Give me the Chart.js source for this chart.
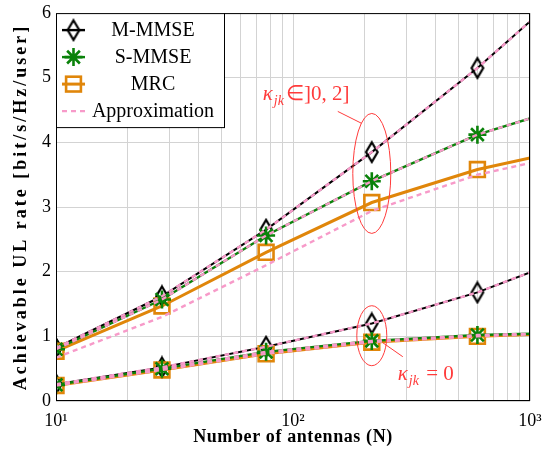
<!DOCTYPE html>
<html>
<head>
<meta charset="utf-8">
<script src="https://cdn.jsdelivr.net/npm/chart.js@4.4.0/dist/chart.umd.min.js"></script>
<style>
  html, body { margin: 0; padding: 0; background: #fff; }
</style>
</head>
<body>
<canvas id="rateChart" width="558" height="453"></canvas>
<script>
// Number of antennas (x values) – markers on all but the last one
const antennas = [10, 28, 77, 215, 600, 1000];

// kappa_jk in ]0, 2]
const mmseHigh      = [0.82, 1.62, 2.65, 3.85, 5.15, 5.87];
const smmseHigh     = [0.80, 1.57, 2.56, 3.40, 4.12, 4.37];
const mrcHigh       = [0.77, 1.47, 2.30, 3.07, 3.58, 3.76];
const approxMmseHigh  = [0.82, 1.62, 2.65, 3.85, 5.15, 5.87];
const approxSmmseHigh = [0.80, 1.57, 2.56, 3.40, 4.12, 4.37];
const approxMrcHigh   = [0.67, 1.30, 2.10, 2.94, 3.50, 3.68];

// kappa_jk = 0
const mmseZero      = [0.26, 0.52, 0.84, 1.20, 1.68, 1.99];
const smmseZero     = [0.25, 0.50, 0.76, 0.93, 1.02, 1.04];
const mrcZero       = [0.24, 0.48, 0.73, 0.91, 1.00, 1.03];
const approxMmseZero  = [0.26, 0.52, 0.84, 1.20, 1.68, 1.99];
const approxSmmseZero = [0.25, 0.50, 0.76, 0.93, 1.02, 1.04];
const approxMrcZero   = [0.24, 0.48, 0.73, 0.91, 1.00, 1.03];

const xTicks = [10, 20, 30, 40, 50, 60, 70, 80, 90, 100, 200, 300, 400, 500, 600, 700, 800, 900, 1000];
const xTickLabels = { 10: '10¹', 100: '10²', 1000: '10³' };
const yTicks = [0, 1, 2, 3, 4, 5, 6];

const legendNames = ['M-MMSE', 'S-MMSE', 'MRC', 'Approximation'];
const xTitle = 'Number of antennas (N)';
const yTitle = 'Achievable UL rate [bit/s/Hz/user]';

const BLACK = '#000000';
const GREEN = '#0a820a';
const ORANGE = '#e0860a';
const PINK = '#f79ac9';
const RED = '#ff3b3b';
const FONT = "'Liberation Serif', serif";

// tall hollow diamond used as marker
function diamondMarker(w, h, lw) {
    const c = document.createElement('canvas');
    c.width = w + lw * 2;
    c.height = h + lw * 2;
    const g = c.getContext('2d');
    g.strokeStyle = BLACK;
    g.lineWidth = lw;
    g.beginPath();
    g.moveTo(c.width / 2, lw);
    g.lineTo(c.width - lw, c.height / 2);
    g.lineTo(c.width / 2, c.height - lw);
    g.lineTo(lw, c.height / 2);
    g.closePath();
    g.stroke();
    return c;
}
const diamond = diamondMarker(12, 20, 2.2);

function pts(values) {
    return antennas.map(function (n, i) { return { x: n, y: values[i] }; });
}
function radii(r) {
    return antennas.map(function (n, i) { return i < antennas.length - 1 ? r : 0; });
}

function simSet(values, color, width, style, r, order) {
    return {
        data: pts(values),
        borderColor: color,
        borderWidth: width,
        pointStyle: style,
        pointRadius: radii(r),
        pointBorderColor: color,
        pointBorderWidth: 2.6,
        pointBackgroundColor: 'rgba(0,0,0,0)',
        tension: 0,
        order: order,
    };
}
function approxSet(values) {
    return {
        data: pts(values),
        borderColor: PINK,
        borderWidth: 2.4,
        borderDash: [5, 4],
        pointRadius: 0,
        tension: 0,
        order: 0,
    };
}

const datasets = [
    simSet(mmseHigh, BLACK, 2, diamond, 10, 4),
    simSet(mrcHigh, ORANGE, 3, 'rect', 10.5, 3),
    simSet(smmseHigh, GREEN, 2.4, 'star', 9, 2),
    approxSet(approxMmseHigh),
    approxSet(approxSmmseHigh),
    approxSet(approxMrcHigh),
    simSet(mmseZero, BLACK, 2, diamond, 10, 4),
    simSet(mrcZero, ORANGE, 3, 'rect', 10.5, 3),
    simSet(smmseZero, GREEN, 2.4, 'star', 9, 2),
    approxSet(approxMmseZero),
    approxSet(approxSmmseZero),
    approxSet(approxMrcZero),
];

function drawKappa(ctx, x, y, rest) {
    ctx.fillStyle = RED;
    ctx.textBaseline = 'alphabetic';
    ctx.textAlign = 'left';
    ctx.font = 'italic 21px ' + FONT;
    ctx.fillText('κ', x, y);
    x += ctx.measureText('κ').width + 1;
    ctx.font = 'italic 14px ' + FONT;
    ctx.fillText('jk', x, y + 5);
    x += ctx.measureText('jk').width + 2;
    ctx.font = '21px ' + FONT;
    ctx.fillText(rest, x, y);
}

const overlay = {
    id: 'overlay',
    afterDraw: function (chart) {
        const ctx = chart.ctx;
        const a = chart.chartArea;
        const xs = chart.scales.x;
        const ys = chart.scales.y;
        ctx.save();

        // axes box
        ctx.strokeStyle = BLACK;
        ctx.lineWidth = 1;
        ctx.strokeRect(a.left + 0.5, a.top + 0.5, a.right - a.left - 1, a.bottom - a.top - 1);

        // axis titles (wide letter spacing like the LaTeX original)
        ctx.fillStyle = BLACK;
        ctx.font = 'bold 18px ' + FONT;
        ctx.textAlign = 'center';
        ctx.textBaseline = 'middle';
        ctx.letterSpacing = '0.6px';
        ctx.fillText(xTitle, (a.left + a.right) / 2, 437);
        ctx.save();
        ctx.translate(21, (a.top + a.bottom) / 2);
        ctx.rotate(-Math.PI / 2);
        ctx.letterSpacing = '3px';
        ctx.fillText(yTitle, 0, 0);
        ctx.restore();
        ctx.letterSpacing = '0px';

        // ellipse annotations around N = 215
        ctx.strokeStyle = RED;
        ctx.lineWidth = 1;
        const cx = xs.getPixelForValue(215);
        const cyHigh = ys.getPixelForValue(3.52);
        const cyZero = ys.getPixelForValue(1.01);

        ctx.beginPath();
        ctx.ellipse(cx, cyHigh, 19, 60, 0, 0, Math.PI * 2);
        ctx.stroke();
        ctx.beginPath();
        ctx.moveTo(cx - 10, cyHigh - 50);
        ctx.lineTo(cx - 34, cyHigh - 62);
        ctx.stroke();
        drawKappa(ctx, cx - 109, cyHigh - 73, '∈]0, 2]');

        ctx.beginPath();
        ctx.ellipse(cx, cyZero, 15, 30, 0, 0, Math.PI * 2);
        ctx.stroke();
        ctx.beginPath();
        ctx.moveTo(cx + 11, cyZero + 7);
        ctx.lineTo(cx + 31, cyZero + 21);
        ctx.stroke();
        drawKappa(ctx, cx + 26, cyZero + 44, ' = 0');

        // legend box
        const lx = a.left, ly = a.top, lw = 168, lh = 114;
        ctx.fillStyle = '#fff';
        ctx.fillRect(lx, ly, lw, lh);
        ctx.strokeStyle = BLACK;
        ctx.strokeRect(lx + 0.5, ly + 0.5, lw, lh);
        const rows = [17, 44, 71, 98];
        const colors = [BLACK, GREEN, ORANGE, PINK];
        ctx.font = '20px ' + FONT;
        ctx.textAlign = 'center';
        ctx.textBaseline = 'middle';
        rows.forEach(function (dy, i) {
            const y = ly + dy;
            ctx.strokeStyle = colors[i];
            ctx.lineWidth = i === 2 ? 3 : 2.4;
            ctx.setLineDash(i === 3 ? [5, 4] : []);
            ctx.beginPath();
            ctx.moveTo(lx + 6, y);
            ctx.lineTo(lx + 29, y);
            ctx.stroke();
            ctx.setLineDash([]);
            const mx = lx + 17.5;
            ctx.lineWidth = 2.6;
            if (i === 0) {
                ctx.drawImage(diamond, mx - diamond.width / 2, y - diamond.height / 2);
            } else if (i === 1) {
                ctx.beginPath();
                for (let k = 0; k < 4; k++) {
                    const ang = k * Math.PI / 4;
                    ctx.moveTo(mx - 9 * Math.cos(ang), y - 9 * Math.sin(ang));
                    ctx.lineTo(mx + 9 * Math.cos(ang), y + 9 * Math.sin(ang));
                }
                ctx.stroke();
            } else if (i === 2) {
                ctx.strokeRect(mx - 7.4, y - 7.4, 14.8, 14.8);
            }
            ctx.fillStyle = BLACK;
            ctx.fillText(legendNames[i], lx + 97, y + 1);
        });
        ctx.restore();
    },
};

new Chart(document.getElementById('rateChart'), {
    type: 'line',
    data: { datasets: datasets },
    plugins: [overlay],
    options: {
        responsive: false,
        animation: false,
        layout: { padding: { top: 11, right: 28, left: 0, bottom: 0 } },
        plugins: { legend: { display: false }, tooltip: { enabled: false } },
        font: { family: FONT },
        scales: {
            x: {
                type: 'logarithmic',
                min: 10,
                max: 1000,
                afterBuildTicks: function (scale) {
                    scale.ticks = xTicks.map(function (v) { return { value: v }; });
                },
                afterFit: function (scale) {
                    scale.height = 52;
                    scale.paddingLeft = 0;
                    scale.paddingRight = 0;
                },
                grid: { color: '#d3d3d3', lineWidth: 1, drawTicks: false },
                border: { display: false },
                ticks: {
                    autoSkip: false,
                    maxRotation: 0,
                    padding: 9,
                    color: BLACK,
                    font: { family: FONT, size: 18 },
                    callback: function (v) { return xTickLabels[v] || ''; },
                },
            },
            y: {
                min: 0,
                max: 6,
                afterBuildTicks: function (scale) {
                    scale.ticks = yTicks.map(function (v) { return { value: v }; });
                },
                afterFit: function (scale) {
                    scale.width = 56;
                    scale.paddingTop = 0;
                    scale.paddingBottom = 0;
                },
                grid: { color: '#d3d3d3', lineWidth: 1, drawTicks: false },
                border: { display: false },
                ticks: {
                    padding: 5,
                    color: BLACK,
                    font: { family: FONT, size: 18 },
                },
            },
        },
    },
});
</script>
</body>
</html>
